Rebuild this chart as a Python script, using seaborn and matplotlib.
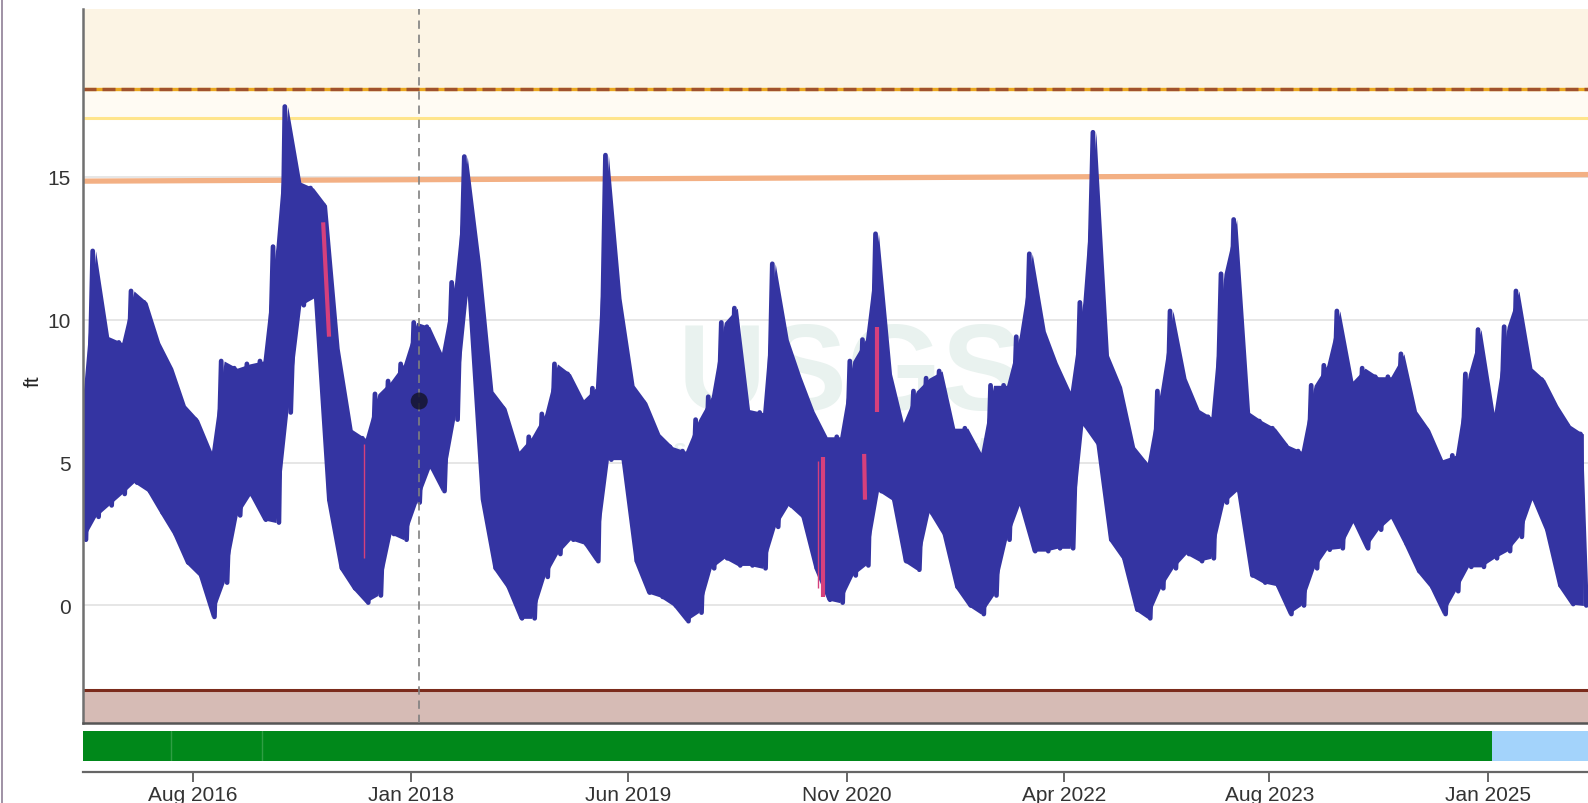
import matplotlib
matplotlib.use("Agg")
import matplotlib.pyplot as plt
import matplotlib.dates as mdates
from matplotlib.lines import Line2D
import seaborn as sns
import pandas as pd

# monthly envelope of the gage height (ft)
months = pd.date_range("2015-11-01", "2025-08-01", freq="MS")
high_ft = [7.35, 12.4,
           9.4, 9.2, 11.0, 10.6, 9.2, 8.3, 7.0, 6.5, 5.4, 8.55, 8.3, 8.45,
           8.55, 12.55, 17.45, 14.8, 14.6, 14.0, 9.0, 6.15, 5.85, 7.4, 7.85, 8.45,
           9.9, 9.75, 8.85, 11.3, 15.7, 12.0, 7.5, 6.9, 5.4, 5.9, 6.7, 8.45,
           8.1, 7.2, 7.6, 15.75, 10.75, 7.7, 7.1, 6.0, 5.55, 5.4, 6.5, 7.3,
           9.9, 10.4, 6.85, 6.75, 11.95, 9.3, 8.0, 6.8, 5.9, 5.9, 8.55, 9.3,
           13.0, 8.1, 6.4, 7.5, 7.95, 8.2, 6.2, 6.2, 5.35, 7.7, 7.7, 9.4,
           12.3, 9.6, 8.5, 7.5, 10.6, 16.55, 8.75, 7.65, 5.55, 5.0, 7.5, 10.3,
           7.95, 6.85, 6.6, 11.6, 13.5, 6.75, 6.45, 6.2, 5.6, 5.4, 7.7, 8.4,
           10.3, 7.85, 8.3, 8.0, 8.0, 8.8, 6.8, 6.15, 5.1, 5.25, 8.1, 9.65,
           6.75, 9.75, 11.0, 8.3, 7.9, 7.0, 6.3, 6.0]
low_ft = [2.3, 3.1,
          3.5, 3.9, 4.3, 4.0, 3.25, 2.5, 1.5, 1.05, -0.4, 0.8, 3.15, 3.85,
          3.0, 2.9, 6.75, 10.5, 10.75, 3.7, 1.3, 0.6, 0.1, 0.35, 2.5, 2.3,
          3.6, 4.8, 4.0, 6.5, 10.85, 3.7, 1.3, 0.65, -0.45, -0.45, 1.0, 1.8,
          2.3, 2.15, 1.55, 5.1, 5.1, 1.55, 0.45, 0.3, 0.0, -0.55, -0.25, 1.3,
          1.65, 1.4, 1.4, 1.3, 2.75, 3.5, 3.1, 1.3, 0.2, 0.1, 1.05, 1.4,
          4.0, 3.7, 1.55, 1.25, 3.25, 2.5, 0.65, 0.0, -0.3, 0.35, 2.3, 3.5,
          1.9, 1.9, 2.0, 2.0, 6.3, 5.65, 2.3, 1.65, -0.15, -0.45, 0.6, 1.3,
          1.8, 1.55, 1.65, 3.6, 4.0, 1.05, 0.8, 0.7, -0.3, 0.0, 1.3, 1.95,
          2.0, 2.9, 2.0, 2.65, 3.05, 2.15, 1.2, 0.65, -0.3, 0.5, 1.35, 1.35,
          1.65, 1.9, 2.4, 3.7, 2.65, 0.7, 0.05, 0.0]

# estimated (pink) pieces of record
pink_start = ["2017-06-07", "2017-09-13", "2020-08-25", "2020-09-06", "2020-12-12", "2021-01-12"]
pink_end = ["2017-06-21", "2017-09-13", "2020-08-25", "2020-09-06", "2020-12-14", "2021-01-12"]
pink_top = [13.4, 5.65, 5.05, 5.2, 5.3, 9.75]
pink_bottom = [9.4, 1.65, 0.6, 0.3, 3.7, 6.75]
pink_thin = [False, True, True, False, False, False]

ref_dates = ["2015-11-15", "2025-08-26"]
ref_vals = [14.84, 15.07]
action_top = 18.05
action_low = 17.06
floor_level = -2.96
cursor_date = "2018-01-21"
cursor_val = 7.15
tick_dates = ["2016-08-01", "2018-01-01", "2019-06-01", "2020-11-01",
              "2022-04-01", "2023-08-01", "2025-01-01"]
strip_breaks = ["2016-06-11", "2017-01-13"]
approved_until = "2025-01-10"

sns.set_style("white")
plt.rcParams["font.family"] = ["Liberation Sans", "DejaVu Sans"]

fig = plt.figure(figsize=(15.88, 8.04), dpi=100)
ax = fig.add_axes([83 / 1588, 1 - 724 / 804, 1 - 83 / 1588, 714 / 804])
strip = fig.add_axes([83 / 1588, 1 - 762 / 804, 1 - 83 / 1588, 30 / 804], sharex=ax)

x0, x1 = pd.Timestamp("2015-11-15"), pd.Timestamp("2025-08-26")
blue = "#3434a2"

# bands and reference lines
ax.axhspan(action_top, 30, color="#fcf4e4", zorder=0)
ax.axhspan(action_low, action_top, color="#fffbf3", zorder=0)
ax.axhspan(-10, floor_level, color="#d6bbb5", zorder=0)
for v in [0, 5, 10, 15]:
    ax.axhline(v, color="#e2e2e2", lw=1.2, zorder=0.5)
ax.axhline(action_low, color="#ffe58c", lw=2.2, zorder=1)
ax.axhline(action_top, color="#eaa820", lw=2.4, zorder=1)
ax.axhline(action_top, color="#a0522d", lw=2.4, dashes=(3.9, 1.8), zorder=1.1)
ax.axhline(floor_level, color="#7b2b1c", lw=2.2, zorder=1)
ax.plot(pd.to_datetime(ref_dates), ref_vals, color="#f3b084", lw=3.8, zorder=1.5)

# watermark
ax.text(0.51, 0.485, "USGS", transform=ax.transAxes, ha="center", va="center",
        fontsize=88, fontweight="bold", color="#e9f2ef", zorder=0.6)
ax.text(0.50, 0.385, "science for a changing world", transform=ax.transAxes, ha="center",
        va="center", fontsize=17, style="italic", fontweight="bold", color="#e9f2ef", zorder=0.6)

# the series: monthly envelope band plus the zigzag between high and low readings
mid = months + pd.Timedelta(days=14)
ax.fill_between(mid, low_ft, high_ft, color=blue, lw=0, zorder=1.8)
rows = []
for m, hi, lo in zip(months, high_ft, low_ft):
    rows.append((m + pd.Timedelta(days=7), hi))
    rows.append((m + pd.Timedelta(days=21), lo))
df = pd.DataFrame(rows, columns=["date", "ft"])
sns.lineplot(data=df, x="date", y="ft", ax=ax, color=blue, lw=3.4,
             sort=False, estimator=None, zorder=2)

for s, e, t, b, thin in zip(pink_start, pink_end, pink_top, pink_bottom, pink_thin):
    ax.plot(pd.to_datetime([s, e]), [t, b], color="#d6407c",
            lw=1.0 if thin else 3.0, zorder=2.5, solid_capstyle="butt")

ax.axvline(pd.Timestamp(cursor_date), color="#808080", lw=1.2, dashes=(5, 3.5), zorder=3)
ax.scatter([pd.Timestamp(cursor_date)], [cursor_val], s=150, color="#15152e",
           alpha=0.85, zorder=4, edgecolors="none")

ax.set_xlim(x0, x1)
ax.set_ylim(-4.11, 20.86)
ax.set_yticks([0, 5, 10, 15])
ax.tick_params(axis="y", length=0, labelsize=15, labelcolor="#333333", pad=9)
ax.tick_params(axis="x", bottom=False, labelbottom=False)
ax.set_xlabel("")
ax.set_ylabel("ft", fontsize=15, color="#222222")
ax.yaxis.set_label_coords(-0.027, 0.48)
for side in ["top", "right"]:
    ax.spines[side].set_visible(False)
ax.spines["left"].set_color("#707070")
ax.spines["left"].set_linewidth(1.8)
ax.spines["bottom"].set_color("#555555")
ax.spines["bottom"].set_linewidth(1.8)

# approval strip with date axis
strip.axvspan(x0, pd.Timestamp(approved_until), color="#00881a", lw=0)
strip.axvspan(pd.Timestamp(approved_until), x1, color="#a3d3fb", lw=0)
for d in strip_breaks:
    strip.axvline(pd.Timestamp(d), color="#2f9e44", lw=1)
strip.set_ylim(0, 1)
strip.set_yticks([])
for side in ["top", "right", "left"]:
    strip.spines[side].set_visible(False)
strip.spines["bottom"].set_position(("outward", 8))
strip.spines["bottom"].set_color("#666666")
strip.spines["bottom"].set_linewidth(1.6)
strip.set_xticks(pd.to_datetime(tick_dates))
strip.xaxis.set_major_formatter(mdates.DateFormatter("%b %Y"))
strip.tick_params(axis="x", length=7, width=1.4, color="#666666", labelsize=15,
                  labelcolor="#333333", pad=2.5, bottom=True)
strip.set_xlim(x0, x1)

fig.add_artist(Line2D([0.0015, 0.0015], [0, 1], transform=fig.transFigure,
                      color="#8f7f96", lw=1.2))

fig.savefig("out.png", dpi=100)
